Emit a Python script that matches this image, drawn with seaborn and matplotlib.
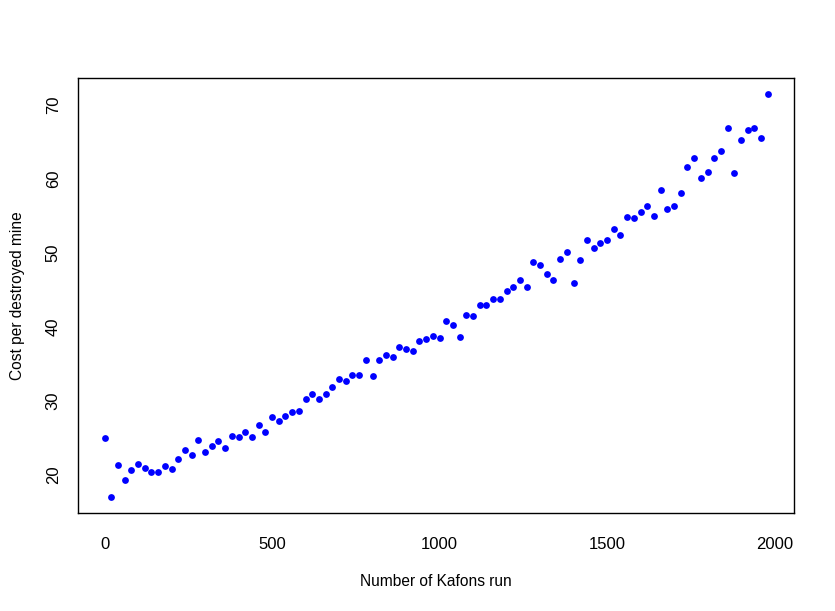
import matplotlib
matplotlib.use("Agg")
from matplotlib import pyplot as plt
import pandas as pd
import seaborn as sns

# Number of Kafons run (every 20 runs)
kafons_run = list(range(0, 2000, 20))

# Cost per destroyed mine
cost_per_mine = [
    25.0, 17.03, 21.35, 19.32, 20.68, 21.49, 20.95, 20.41, 20.41, 21.22,
    20.81, 22.16, 23.38, 22.70, 24.73, 23.11, 23.92, 24.59, 23.65, 25.27,
    25.14, 25.81, 25.14, 26.76, 25.81, 27.84, 27.30, 27.97, 28.51, 28.65,
    30.27, 30.95, 30.27, 30.95, 31.89, 32.97, 32.70, 33.51, 33.51, 35.54,
    33.38, 35.54, 36.22, 35.95, 37.30, 37.03, 36.76, 38.11, 38.38, 38.78,
    38.51, 40.81, 40.27, 38.65, 41.62, 41.49, 42.97, 42.97, 43.78, 43.78,
    44.86, 45.41, 46.35, 45.41, 48.78, 48.38, 47.16, 46.35, 49.19, 50.14,
    45.95, 49.05, 51.76, 50.68, 51.35, 51.76, 53.24, 52.43, 54.86, 54.73,
    55.54, 56.35, 55.00, 58.51, 55.95, 56.35, 58.11, 61.62, 62.84, 60.14,
    60.95, 62.84, 63.78, 66.89, 60.81, 65.14, 66.62, 66.89, 65.41, 71.35,
]

df = pd.DataFrame({"kafons": kafons_run, "cost": cost_per_mine})

sns.set_style("white")
plt.rcParams["font.family"] = ["Liberation Sans", "DejaVu Sans"]
plt.rcParams["font.size"] = 12
plt.rcParams["text.color"] = "black"
plt.rcParams["axes.labelcolor"] = "black"

fig = plt.figure(figsize=(8.35, 6.11), dpi=100)
ax = fig.add_axes([0.0934, 0.1599, 0.9513 - 0.0934, 0.8718 - 0.1599])

sns.scatterplot(
    x="kafons",
    y="cost",
    data=df,
    color="#0000ff",
    s=24,
    linewidth=0,
    ax=ax,
)

# R-style 4% padding around the data range
xr = df.kafons.max() - df.kafons.min()
yr = df.cost.max() - df.cost.min()
ax.set_xlim(df.kafons.min() - 0.04 * xr, df.kafons.max() + 0.04 * xr)
ax.set_ylim(df.cost.min() - 0.04 * yr, df.cost.max() + 0.04 * yr)

ax.set_xticks([0, 500, 1000, 1500, 2000])
ax.set_yticks([20, 30, 40, 50, 60, 70])
for lab in ax.get_yticklabels():
    lab.set_rotation(90)
    lab.set_va("center")

for sp in ax.spines.values():
    sp.set_visible(True)
    sp.set_color("black")
    sp.set_linewidth(1)

ax.tick_params(axis="both", direction="out", length=6.5, width=1,
               color="black", labelsize=12, labelcolor="black")
ax.tick_params(axis="x", pad=10.5)
ax.tick_params(axis="y", pad=6)

ax.set_xlabel("Number of Kafons run", fontsize=11.2, labelpad=16, color="black")
ax.set_ylabel("Cost per destroyed mine", fontsize=11.2, labelpad=15, color="black")

plt.savefig("out.png", dpi=100)
